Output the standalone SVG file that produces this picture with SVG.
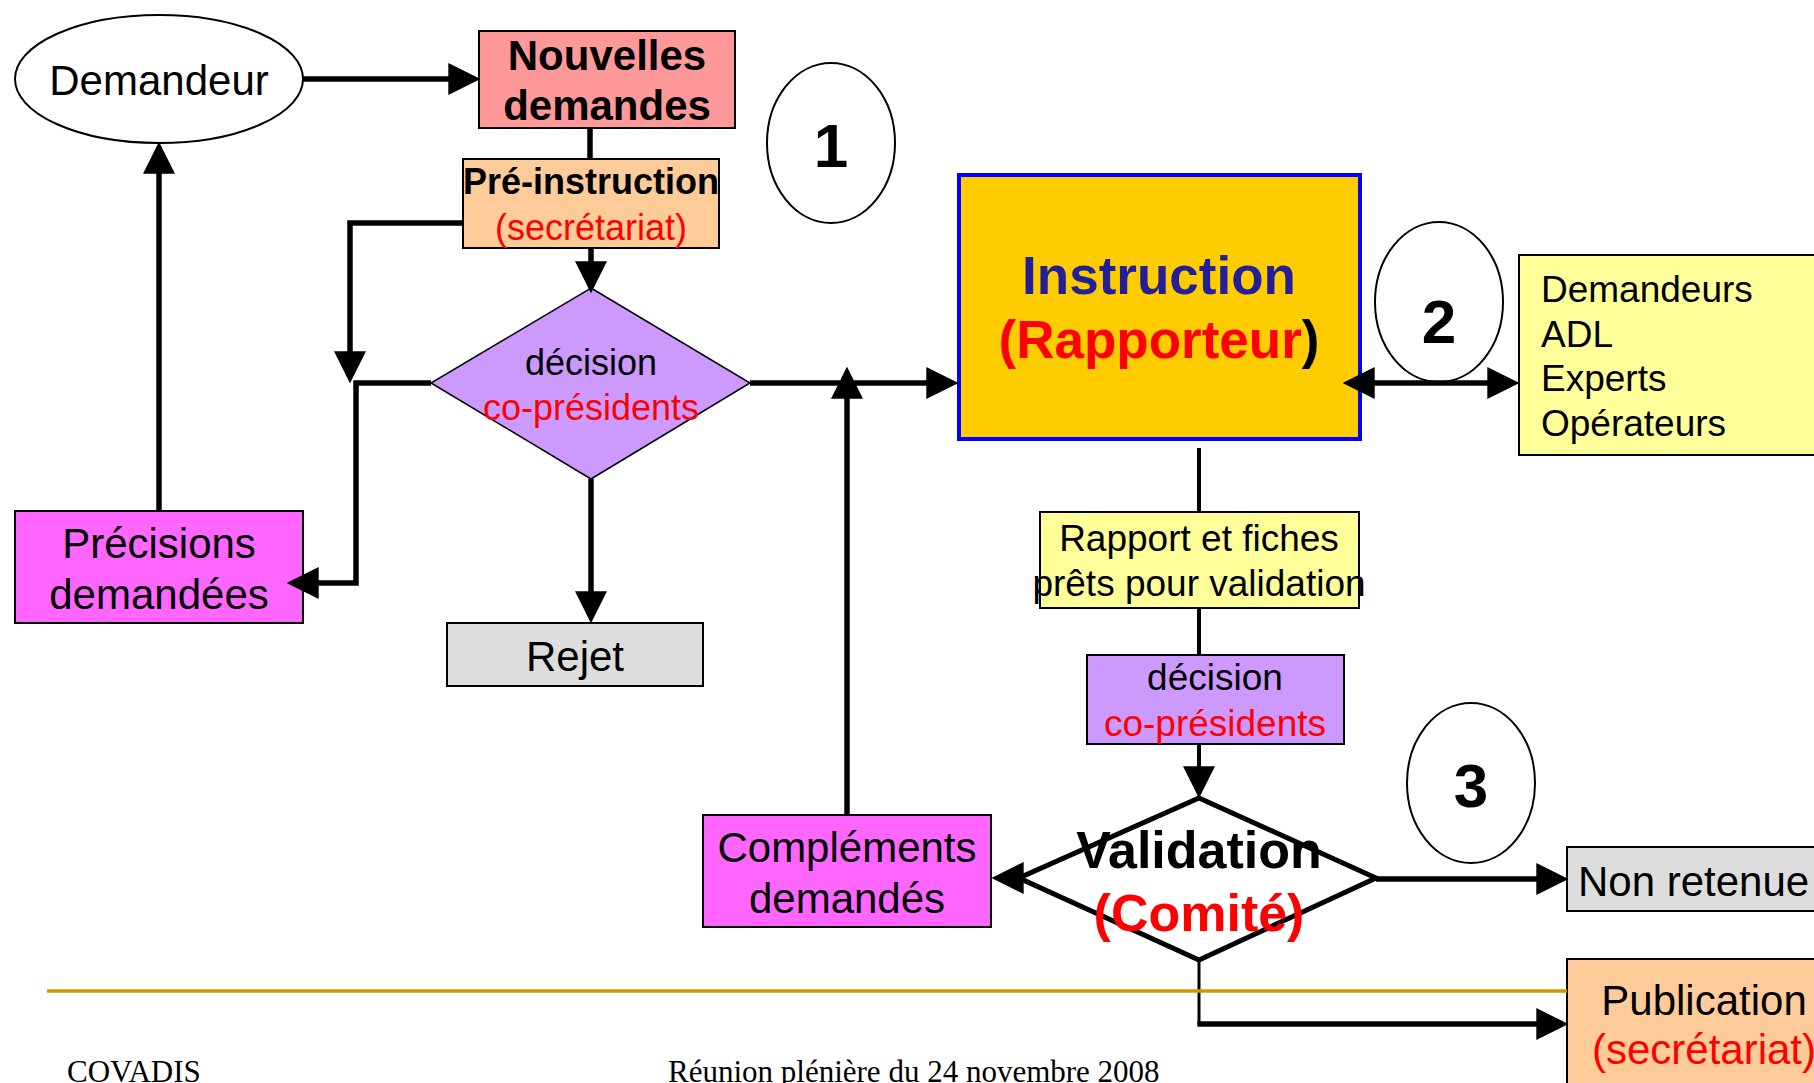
<svg xmlns="http://www.w3.org/2000/svg" width="1814" height="1083" viewBox="0 0 1814 1083">
<style>
  text { font-family: "Liberation Sans", Arial, sans-serif; fill: #000; }
  .c { text-anchor: middle; }
  .b { font-weight: bold; }
  .red { fill: #FF0000; }
  .s42 { font-size: 42px; }
  .s37 { font-size: 37px; }
  .s36 { font-size: 36px; }
  .s53 { font-size: 53px; }
  .num { font-size: 62px; font-weight: bold; text-anchor: middle; }
  .box { stroke: #000; stroke-width: 2; }
  .ell { fill: #FFFFFF; stroke: #000; stroke-width: 2; }
  .con { fill: none; stroke: #000; stroke-width: 5.5; }
  .foot { font-family: "Liberation Serif", "Times New Roman", serif; font-size: 31px; }
</style>
<defs>
  <marker id="ah" markerUnits="userSpaceOnUse" markerWidth="32" markerHeight="32" viewBox="0 0 30 30" refX="10" refY="15" orient="auto-start-reverse">
    <path d="M0,0 L30,15 L0,30 Z" fill="#000"/>
  </marker>
</defs>
<rect width="1814" height="1083" fill="#FFFFFF"/>

<g id="demandeur">
  <ellipse class="ell" cx="159" cy="79" rx="144" ry="64"/>
  <text class="c s42" x="159" y="95">Demandeur</text>
</g>
<g id="nouvelles">
  <rect class="box" x="479" y="31" width="256" height="97" fill="#FF9999"/>
  <text class="c s42 b" x="607" y="70">Nouvelles</text>
  <text class="c s42 b" x="607" y="120">demandes</text>
</g>
<g id="preinstruction">
  <rect class="box" x="463" y="159" width="256" height="89" fill="#FFCC99"/>
  <text class="c s36 b" x="591" y="194">Pré-instruction</text>
  <text class="c s36 red" x="591" y="240">(secrétariat)</text>
</g>
<g id="circle1">
  <ellipse class="ell" cx="831" cy="143" rx="64" ry="80"/>
  <text class="num" x="831" y="167">1</text>
</g>
<g id="decision1">
  <polygon points="591,288 750,383 591,479 431,383" fill="#CC99FF" stroke="#000" stroke-width="1.5"/>
  <text class="c s36" x="591" y="375">décision</text>
  <text class="c s36 red" x="591" y="420">co-présidents</text>
</g>
<g id="precisions">
  <rect class="box" x="15" y="511" width="288" height="112" fill="#FF66FF"/>
  <text class="c s42" x="159" y="558">Précisions</text>
  <text class="c s42" x="159" y="609">demandées</text>
</g>
<g id="rejet">
  <rect class="box" x="447" y="623" width="256" height="63" fill="#DDDDDD"/>
  <text class="c s42" x="575" y="671">Rejet</text>
</g>
<g id="instruction">
  <rect x="959" y="175" width="401" height="264" fill="#FFCC00" stroke="#0000FF" stroke-width="4"/>
  <text class="c s53 b" x="1159" y="294" style="fill:#221F99">Instruction</text>
  <text class="c s53 b" x="1159" y="358"><tspan class="red">(Rapporteur</tspan>)</text>
</g>
<g id="circle2">
  <ellipse class="ell" cx="1439" cy="302" rx="64" ry="80"/>
  <text class="num" x="1439" y="343">2</text>
</g>
<g id="acteurs">
  <rect class="box" x="1519" y="255" width="320" height="200" fill="#FFFF99"/>
  <text class="s37" x="1541" y="302">Demandeurs</text>
  <text class="s37" x="1541" y="347">ADL</text>
  <text class="s37" x="1541" y="391">Experts</text>
  <text class="s37" x="1541" y="436">Opérateurs</text>
</g>
<g id="rapport">
  <rect class="box" x="1040" y="512" width="319" height="96" fill="#FFFF99"/>
  <text class="c s37" x="1199" y="551">Rapport et fiches</text>
  <text class="c s37" x="1199" y="596">prêts pour validation</text>
</g>
<g id="decision2">
  <rect class="box" x="1087" y="655" width="257" height="89" fill="#CC99FF"/>
  <text class="c s37" x="1215" y="690">décision</text>
  <text class="c s37 red" x="1215" y="736">co-présidents</text>
</g>
<g id="circle3">
  <ellipse class="ell" cx="1471" cy="783" rx="64" ry="80"/>
  <text class="num" x="1471" y="807">3</text>
</g>
<g id="complements">
  <rect class="box" x="703" y="815" width="288" height="112" fill="#FF66FF"/>
  <text class="c s42" x="847" y="862">Compléments</text>
  <text class="c s42" x="847" y="913">demandés</text>
</g>
<g id="validation">
  <polygon points="1199,798 1376,878 1199,960 1019,878" fill="#FFFFFF" stroke="#000" stroke-width="5"/>
  <text class="c b" x="1199" y="868" style="font-size:52px">Validation</text>
  <text class="c b red" x="1199" y="931" style="font-size:52px">(Comité)</text>
</g>
<g id="nonretenue">
  <rect class="box" x="1567" y="847" width="270" height="64" fill="#DDDDDD"/>
  <text class="s42" x="1578" y="896">Non retenue</text>
</g>
<g id="publication">
  <rect class="box" x="1567" y="959" width="274" height="140" fill="#FFCC99"/>
  <text class="c s42" x="1704" y="1015">Publication</text>
  <text class="c s42 red" x="1704" y="1064">(secrétariat)</text>
</g>

<g id="connectors">
  <line class="con" x1="303" y1="79" x2="459" y2="79" marker-end="url(#ah)"/>
  <line class="con" x1="590" y1="128" x2="590" y2="159"/>
  <line class="con" x1="591" y1="248" x2="591" y2="272" marker-end="url(#ah)"/>
  <polyline class="con" points="463,223 350,223 350,362" marker-end="url(#ah)"/>
  <polyline class="con" points="431,383 356,383 356,583 308,583" marker-end="url(#ah)"/>
  <line class="con" x1="159" y1="511" x2="159" y2="163" marker-end="url(#ah)"/>
  <line class="con" x1="591" y1="479" x2="591" y2="602" marker-end="url(#ah)"/>
  <line class="con" x1="750" y1="383" x2="937" y2="383" marker-end="url(#ah)"/>
  <line class="con" x1="847" y1="815" x2="847" y2="388" marker-end="url(#ah)"/>
  <line class="con" x1="1364" y1="383" x2="1498" y2="383" marker-start="url(#ah)" marker-end="url(#ah)"/>
  <line class="con" x1="1199" y1="448" x2="1199" y2="512" style="stroke-width:4"/>
  <line class="con" x1="1199" y1="608" x2="1199" y2="655" style="stroke-width:4"/>
  <line class="con" x1="1199" y1="744" x2="1199" y2="777" style="stroke-width:4" marker-end="url(#ah)"/>
  <line class="con" x1="1019" y1="878" x2="1013" y2="878" marker-end="url(#ah)"/>
  <line class="con" x1="1376" y1="879" x2="1547" y2="879" marker-end="url(#ah)"/>
  <line class="con" x1="1199" y1="960" x2="1199" y2="1026" style="stroke-width:3"/>
  <line class="con" x1="1197.5" y1="1024" x2="1547" y2="1024" marker-end="url(#ah)"/>
</g>

<g id="footer">
  <line x1="47" y1="991" x2="1567" y2="991" stroke="#CC9900" stroke-width="3.5"/>
  <text class="foot" x="67" y="1082">COVADIS</text>
  <text class="foot" x="668" y="1082">Réunion plénière du 24 novembre 2008</text>
</g>
</svg>
